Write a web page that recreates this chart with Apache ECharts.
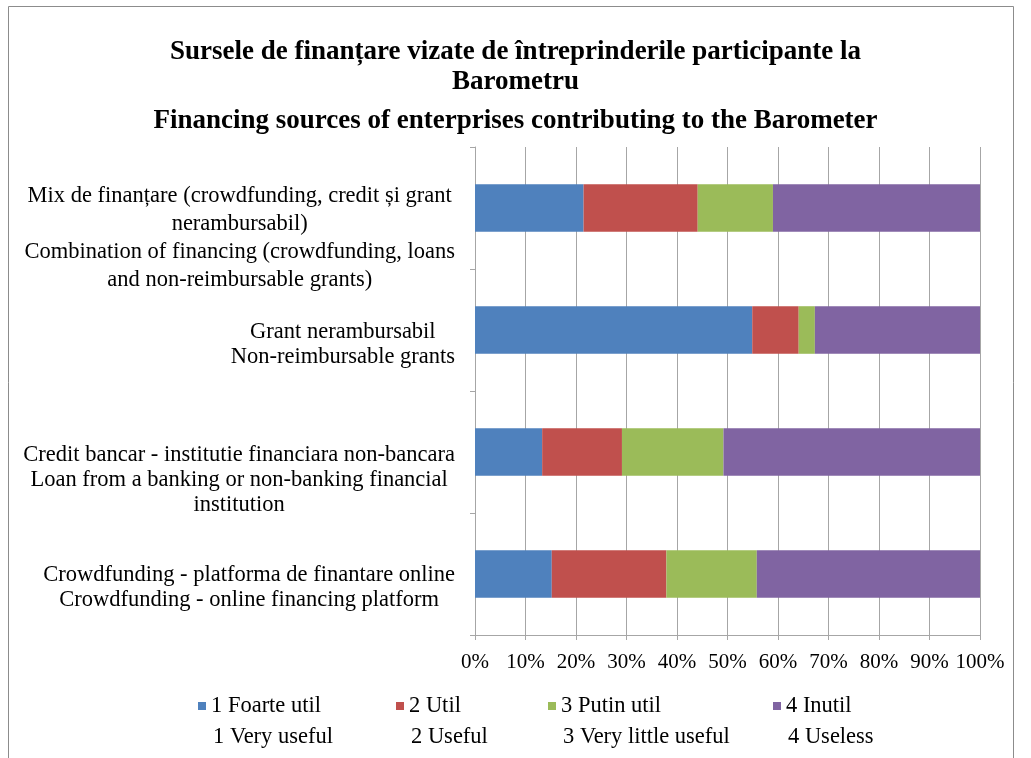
<!DOCTYPE html>
<html>
<head>
<meta charset="utf-8">
<script src="https://cdn.jsdelivr.net/npm/echarts@6/dist/echarts.min.js"></script>
<style>html,body{margin:0;padding:0;background:#fff}#c{width:1031px;height:758px}</style>
</head>
<body>
<div id="c"></div>
<script>
// ---- data (categories bottom to top) ----
const categories = [
  'Crowdfunding - platforma de finantare online\nCrowdfunding - online financing platform',
  'Credit bancar - institutie financiara non-bancara\nLoan from a banking or non-banking financial\ninstitution',
  'Grant nerambursabil\nNon-reimbursable grants',
  'Mix de finanțare (crowdfunding, credit și grant\nnerambursabil)\nCombination of financing (crowdfunding, loans\nand non-reimbursable grants)'
];
const seriesNames = ['1 Foarte util', '2 Util', '3 Putin util', '4 Inutil'];
const seriesNamesEn = ['1 Very useful', '2 Useful', '3 Very little useful', '4 Useless'];
const foarteUtil = [15.2, 13.3, 54.9, 21.5];
const util       = [22.7, 15.8, 9.2, 22.6];
const putinUtil  = [17.9, 20.1, 3.2, 14.9];
const inutil     = [44.2, 50.8, 32.7, 41.0];
const xTickStep = 10;

// ---- styling ----
const colors = ['#4F81BD', '#C0504D', '#9BBB59', '#8064A2'];
const labelPadTop = [27, 56, 29, 60];
const labelLineH = [25, 25, 25, 28];
const legendTextW = [185, 139, 212, 100];
const FONT = '"Liberation Serif", "Times New Roman", serif';
const GRID = '#a6a6a6';

const values = [foarteUtil, util, putinUtil, inutil];

const chart = echarts.init(document.getElementById('c'), null, {renderer: 'canvas'});
chart.setOption({
  animation: false,
  backgroundColor: '#fff',
  color: colors,
  graphic: [{
    type: 'rect', silent: true, z: -1,
    shape: {x: 8.5, y: 6.5, width: 1005, height: 800},
    style: {fill: 'none', stroke: '#8c8c8c', lineWidth: 1}
  }],
  title: [{
    text: 'Sursele de finanțare vizate de întreprinderile participante la\nBarometru',
    left: 'center', top: 37, padding: 0,
    textStyle: {fontFamily: FONT, fontWeight: 'bold', fontSize: 27, lineHeight: 30, color: '#000'}
  }, {
    text: 'Financing sources of enterprises contributing to the Barometer',
    left: 'center', top: 106, padding: 0,
    textStyle: {fontFamily: FONT, fontWeight: 'bold', fontSize: 27, lineHeight: 30, color: '#000'}
  }],
  legend: [{
    left: 198, top: 694, padding: 0, itemGap: 0,
    itemWidth: 8, itemHeight: 8, icon: 'rect',
    selectedMode: false,
    textStyle: {fontFamily: FONT, fontSize: 22.5, lineHeight: 24, color: '#000'},
    data: seriesNames.map((n, i) => ({name: n, textStyle: {width: legendTextW[i]}}))
  }, {
    left: 200, top: 725, padding: 0, itemGap: 0,
    itemWidth: 8, itemHeight: 8, icon: 'rect',
    selectedMode: false,
    itemStyle: {opacity: 0},
    formatter: (name) => seriesNamesEn[seriesNames.indexOf(name)],
    textStyle: {fontFamily: FONT, fontSize: 22.5, lineHeight: 24, color: '#000'},
    data: seriesNames.map((n, i) => ({name: n, textStyle: {width: legendTextW[i]}}))
  }],
  grid: {left: 475, right: 51, top: 147, bottom: 123, containLabel: false, outerBoundsMode: 'none'},
  xAxis: {
    type: 'value', min: 0, max: 100, interval: xTickStep,
    axisLine: {show: true, lineStyle: {color: GRID}},
    axisTick: {show: true, length: 5, lineStyle: {color: GRID}},
    splitLine: {show: true, lineStyle: {color: GRID, width: 1}},
    axisLabel: {formatter: '{value}%', margin: 17, fontFamily: FONT, fontSize: 21, color: '#000'}
  },
  yAxis: {
    type: 'category',
    data: categories.map((c, i) => ({value: c, textStyle: {padding: [labelPadTop[i], 0, 0, 0], lineHeight: labelLineH[i]}})),
    axisLine: {show: true, lineStyle: {color: GRID}},
    axisTick: {show: true, length: 5, lineStyle: {color: GRID}},
    splitLine: {show: false},
    axisLabel: {
      interval: 0, margin: 20, align: 'right',
      fontFamily: FONT, fontSize: 22.5, lineHeight: 25, color: '#000',
      formatter: (v) => v.split('\n').map(s => '{c|' + s + '}').join('\n'),
      rich: {c: {align: 'center', fontFamily: FONT, fontSize: 22.5, color: '#000'}}
    }
  },
  series: seriesNames.map((n, i) => ({
    name: n, type: 'bar', stack: 'total', barWidth: '39%',
    itemStyle: {color: colors[i]},
    data: values[i]
  }))
});
</script>
</body>
</html>
